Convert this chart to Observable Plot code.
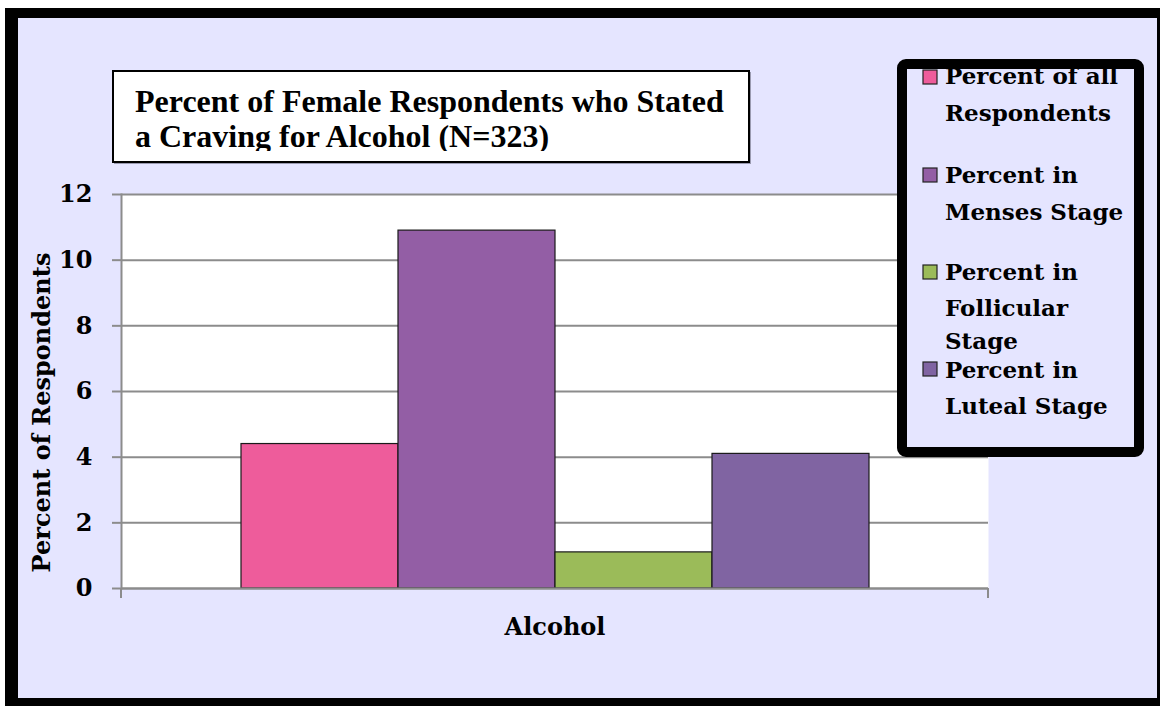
<!DOCTYPE html>
<html>
<head>
<meta charset="utf-8">
<script src="https://cdn.jsdelivr.net/npm/d3@7"></script>
<script src="https://cdn.jsdelivr.net/npm/@observablehq/plot@0.6"></script>
<style>
  html, body { margin: 0; padding: 0; background: #ffffff; }
  #chart svg { display: block; }
</style>
</head>
<body>
<div id="chart"></div>
<script>
// Craving for alcohol by menstrual-cycle stage (female respondents, N=323)
const category = "Alcohol";
const series = [
  "Percent of all Respondents",
  "Percent in Menses Stage",
  "Percent in Follicular Stage",
  "Percent in Luteal Stage"
];
const values = [4.4, 10.9, 1.1, 4.1];
const colors = ["#ee5c9b", "#935ea5", "#9bbb59", "#8064a2"];
const yTicks = [0, 2, 4, 6, 8, 10, 12];
const titleLines = [
  "Percent of Female Respondents who Stated",
  "a Craving for Alcohol (N=323)"
];
// legend entries, wrapped as in the original legend box
const legendLines = [
  ["Percent of all", "Respondents"],
  ["Percent in", "Menses Stage"],
  ["Percent in", "Follicular", "Stage"],
  ["Percent in", "Luteal Stage"]
];

const data = series.map((s, i) => ({category, series: s, value: values[i]}));

const W = 1160, H = 706;
const axisFont = "'DejaVu Serif', serif";
const grey = "#8c8c8c";

const plot = Plot.plot({
  width: W,
  height: H,
  marginLeft: 121,
  marginRight: 172,
  marginTop: 194,
  marginBottom: 118,
  style: {background: "transparent", fontFamily: axisFont},
  x: {domain: series, paddingInner: 0, paddingOuter: 0.748, axis: null},
  y: {domain: [0, 12], axis: null},
  color: {domain: series, range: colors},
  marks: [
    Plot.frame({fill: "white", stroke: null}),
    Plot.gridY(yTicks, {stroke: grey, strokeOpacity: 1, strokeWidth: 2}),
    Plot.axisY(yTicks, {
      tickSize: 9, tickPadding: 20, stroke: grey, strokeWidth: 2,
      fill: "black", fontSize: 24, fontWeight: "bold", label: null,
      tickFormat: d => String(d)
    }),
    Plot.frame({anchor: "left", stroke: grey, strokeWidth: 2}),
    Plot.barY(data, {x: "series", y: "value", fill: "series", stroke: "#1a1a1a", strokeWidth: 1.2}),
    Plot.ruleY([0], {stroke: grey, strokeWidth: 2}),
    Plot.text([category], {
      frameAnchor: "bottom", dy: 39, lineAnchor: "middle", textAnchor: "middle",
      fontSize: 24, fontWeight: "bold", fill: "black"
    }),
    Plot.text(["Percent of Respondents"], {
      frameAnchor: "left", dx: -79, dy: 21, rotate: -90,
      textAnchor: "middle", lineAnchor: "middle",
      fontSize: 24, fontWeight: "bold", fill: "black"
    })
  ]
});

document.getElementById("chart").appendChild(plot);

const svg = d3.select(plot);
// make sure the tick labels take the larger bold face
svg.selectAll('g[aria-label="y-axis tick label"]')
  .attr("font-size", 24).attr("font-weight", "bold")
  .selectAll("text").attr("font-size", 24).attr("font-weight", "bold");

const xs = plot.scale("x"), ys = plot.scale("y");
const [xl, xr] = xs.range;
const y0 = ys.apply(0);

// outer black frame and lavender backdrop, beneath everything
const back = svg.insert("g", ":first-child");
back.append("rect").attr("x", 5).attr("y", 8).attr("width", W).attr("height", H).attr("fill", "#000");
back.append("rect").attr("x", 18).attr("y", 18).attr("width", 1157 - 18).attr("height", 698 - 18).attr("fill", "#e5e5ff");

// small category-boundary ticks below the baseline
const over = svg.append("g");
[xl, xr].forEach(x => {
  over.append("line").attr("x1", x).attr("x2", x).attr("y1", y0).attr("y2", y0 + 10)
    .attr("stroke", grey).attr("stroke-width", 2);
});

// title box
const tb = svg.append("g").attr("text-anchor", "start");
tb.append("rect").attr("x", 114).attr("y", 72).attr("width", 637).attr("height", 92).attr("fill", "#9a9ab0");
tb.append("rect").attr("x", 113).attr("y", 71).attr("width", 636).attr("height", 91)
  .attr("fill", "white").attr("stroke", "black").attr("stroke-width", 2);
const defs = svg.append("defs");
defs.append("clipPath").attr("id", "title-clip").append("rect")
  .attr("x", 114).attr("y", 72).attr("width", 634).attr("height", 79);
const tt = tb.append("g").attr("clip-path", "url(#title-clip)");
titleLines.forEach((t, i) => {
  tt.append("text").attr("x", 135).attr("y", 112 + i * 35).text(t)
    .attr("text-anchor", "start")
    .attr("font-family", "'Liberation Serif', 'Times New Roman', serif")
    .attr("font-weight", "bold").attr("font-size", 32).attr("fill", "black");
});

// legend box
const lg = svg.append("g").attr("text-anchor", "start");
lg.append("rect").attr("x", 902).attr("y", 64).attr("width", 237).attr("height", 388)
  .attr("fill", "#e5e5ff");
const baselines = [[84, 121], [183, 220], [280, 316, 349], [378, 414]];
const swatchY = [70, 168, 265, 362];
legendLines.forEach((lines, i) => {
  lg.append("rect").attr("x", 923).attr("y", swatchY[i]).attr("width", 14).attr("height", 14)
    .attr("fill", colors[i]).attr("stroke", "#222").attr("stroke-width", 1.2);
  lines.forEach((t, j) => {
    lg.append("text").attr("x", 945).attr("y", baselines[i][j]).text(t)
      .attr("text-anchor", "start")
      .attr("font-family", axisFont).attr("font-weight", "bold")
      .attr("font-size", 23).attr("fill", "black");
  });
});
lg.append("rect").attr("x", 902).attr("y", 64).attr("width", 237).attr("height", 388)
  .attr("fill", "none").attr("stroke", "black").attr("stroke-width", 10).attr("rx", 4);
</script>
</body>
</html>
